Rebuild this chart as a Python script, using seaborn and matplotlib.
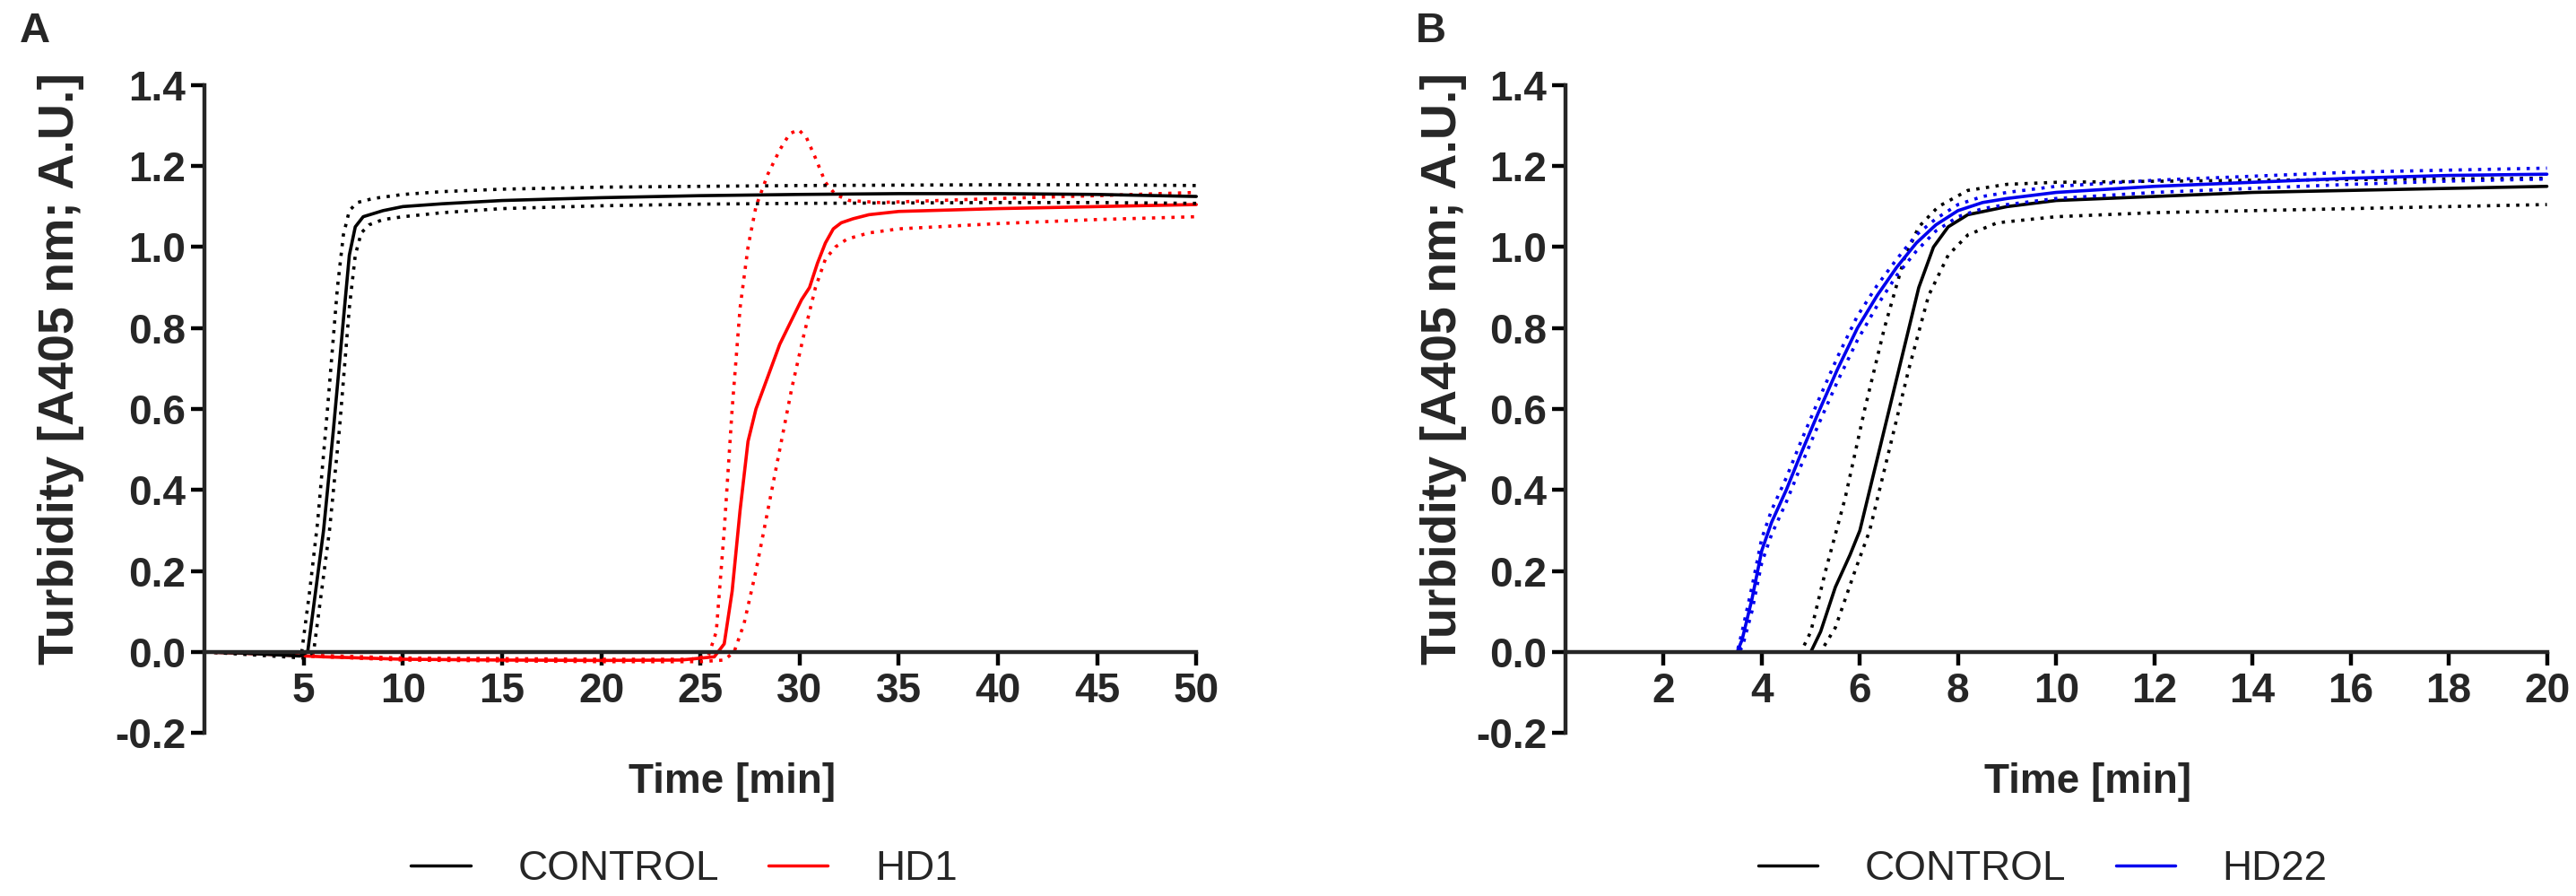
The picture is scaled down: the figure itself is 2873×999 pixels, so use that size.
import numpy as np
import pandas as pd
import matplotlib
matplotlib.use("Agg")
import matplotlib.pyplot as plt
from matplotlib import font_manager
from matplotlib.lines import Line2D
import seaborn as sns

# ---------------- data ----------------
# Panel A: CONTROL
a_ctrl_x = [0, 2, 4, 4.8, 5.2, 5.6, 6.0, 6.5, 7.0, 7.3, 7.6, 8.0, 9, 10, 12, 15, 20, 25, 30, 35, 40, 45, 50]
a_ctrl_y = [0, -0.003, -0.008, -0.01, 0.0, 0.15, 0.3, 0.55, 0.82, 0.98, 1.05, 1.075, 1.09, 1.10, 1.107, 1.115, 1.122, 1.127, 1.13, 1.132, 1.132, 1.13, 1.125]
a_ctrl_hi_x = [0, 2, 4, 4.6, 4.9, 5.3, 5.7, 6.2, 6.7, 7.0, 7.3, 7.7, 8.5, 10, 12, 15, 20, 25, 30, 35, 40, 45, 50]
a_ctrl_hi_y = [0, 0.0, -0.002, -0.004, 0.0, 0.15, 0.32, 0.6, 0.9, 1.03, 1.09, 1.11, 1.12, 1.13, 1.137, 1.143, 1.148, 1.15, 1.152, 1.153, 1.154, 1.154, 1.152]
a_ctrl_lo_x = [0, 2, 4, 5.0, 5.5, 5.9, 6.3, 6.8, 7.3, 7.6, 7.9, 8.3, 9, 10, 12, 15, 20, 25, 30, 35, 40, 45, 50]
a_ctrl_lo_y = [0, -0.006, -0.012, -0.015, 0.0, 0.15, 0.3, 0.55, 0.85, 0.98, 1.035, 1.055, 1.068, 1.075, 1.085, 1.095, 1.102, 1.106, 1.108, 1.109, 1.11, 1.11, 1.108]

# Panel A: HD1
a_hd1_x = [0, 3, 6, 10, 15, 20, 24, 25.7, 26.2, 26.6, 27.0, 27.4, 27.8, 28.4, 29.0, 29.6, 30.1, 30.5, 30.9, 31.3, 31.7, 32.1, 32.7, 33.5, 35, 40, 45, 50]
a_hd1_y = [0, -0.005, -0.012, -0.018, -0.02, -0.021, -0.02, -0.012, 0.02, 0.15, 0.35, 0.52, 0.6, 0.68, 0.76, 0.82, 0.87, 0.9, 0.96, 1.01, 1.045, 1.06, 1.07, 1.08, 1.088, 1.095, 1.10, 1.105]
a_hd1_hi_x = [0, 10, 20, 24.5, 25.4, 25.8, 26.2, 26.6, 27.0, 27.4, 27.8, 28.4, 29.0, 29.5, 29.95, 30.35, 30.8, 31.3, 31.8, 32.5, 34, 37, 40, 45, 50]
a_hd1_hi_y = [0, -0.015, -0.018, -0.018, -0.01, 0.05, 0.3, 0.6, 0.85, 1.0, 1.1, 1.18, 1.24, 1.28, 1.29, 1.27, 1.22, 1.16, 1.13, 1.115, 1.11, 1.115, 1.12, 1.127, 1.135]
a_hd1_lo_x = [0, 10, 20, 25, 26.2, 26.7, 27.2, 27.8, 28.4, 29.0, 29.6, 30.2, 30.8, 31.3, 31.8, 32.4, 33.5, 35, 40, 45, 50]
a_hd1_lo_y = [0, -0.02, -0.024, -0.024, -0.02, 0.0, 0.07, 0.2, 0.35, 0.5, 0.65, 0.78, 0.9, 0.97, 1.0, 1.02, 1.035, 1.045, 1.058, 1.068, 1.075]

# Panel B: CONTROL
b_ctrl_x = [0, 2, 4, 5.0, 5.2, 5.5, 5.8, 6.0, 6.3, 6.6, 6.9, 7.2, 7.5, 7.8, 8.2, 9, 10, 12, 14, 16, 18, 20]
b_ctrl_y = [0, 0, 0, 0, 0.05, 0.16, 0.24, 0.3, 0.45, 0.6, 0.75, 0.9, 1.0, 1.05, 1.08, 1.1, 1.115, 1.125, 1.135, 1.14, 1.145, 1.15]
b_ctrl_hi_x = [0, 2, 4, 4.8, 5.0, 5.3, 5.7, 6.1, 6.5, 6.9, 7.2, 7.6, 8.2, 9, 10, 14, 20]
b_ctrl_hi_y = [0, 0, 0, 0, 0.05, 0.2, 0.38, 0.6, 0.8, 0.97, 1.05, 1.1, 1.14, 1.155, 1.16, 1.165, 1.17]
b_ctrl_lo_x = [0, 2, 4, 5.2, 5.5, 5.9, 6.2, 6.6, 7.0, 7.4, 7.8, 8.2, 8.8, 10, 12, 16, 20]
b_ctrl_lo_y = [0, 0, 0, 0, 0.06, 0.2, 0.3, 0.5, 0.7, 0.88, 0.98, 1.03, 1.06, 1.075, 1.085, 1.095, 1.105]

# Panel B: HD22
b_hd22_x = [0, 2, 3.5, 3.6, 3.8, 4.0, 4.2, 4.5, 4.8, 5.15, 5.55, 5.95, 6.35, 6.75, 7.15, 7.55, 8.0, 8.5, 9, 10, 12, 14, 16, 18, 20]
b_hd22_y = [0, 0, 0, 0.03, 0.13, 0.25, 0.32, 0.40, 0.49, 0.59, 0.70, 0.80, 0.88, 0.95, 1.01, 1.055, 1.09, 1.11, 1.12, 1.135, 1.15, 1.16, 1.17, 1.177, 1.18]
b_hd22_hi_y = [0, 0, 0, 0.05, 0.16, 0.28, 0.35, 0.43, 0.52, 0.62, 0.73, 0.83, 0.905, 0.97, 1.03, 1.07, 1.105, 1.125, 1.135, 1.15, 1.165, 1.175, 1.185, 1.19, 1.195]
b_hd22_lo_y = [0, 0, 0, 0.01, 0.10, 0.22, 0.29, 0.37, 0.46, 0.56, 0.67, 0.77, 0.855, 0.93, 0.99, 1.04, 1.075, 1.095, 1.105, 1.12, 1.135, 1.145, 1.155, 1.163, 1.168]

a_xticks = [5, 10, 15, 20, 25, 30, 35, 40, 45, 50]
b_xticks = [2, 4, 6, 8, 10, 12, 14, 16, 18, 20]
yticks = [-0.2, 0.0, 0.2, 0.4, 0.6, 0.8, 1.0, 1.2, 1.4]
ytick_labels = ["-0.2", "0.0", "0.2", "0.4", "0.6", "0.8", "1.0", "1.2", "1.4"]

RED = "#ff0000"
BLUE = "#0000ee"
BLACK = "#000000"

# ---------------- style ----------------
sns.set_style("ticks")
plt.rcParams["font.family"] = ["Liberation Sans", "DejaVu Sans"]
plt.rcParams["axes.unicode_minus"] = False

installed = {f.name for f in font_manager.fontManager.ttflist}
if "Liberation Sans Narrow" in installed:
    TICK_FAMILY = ["Liberation Sans Narrow", "Liberation Sans", "DejaVu Sans"]
    TICK_FS = 37
else:
    TICK_FAMILY = ["Liberation Sans", "DejaVu Sans"]
    TICK_FS = 33

fig = plt.figure(figsize=(28.73, 9.99), dpi=100)
axA = fig.add_axes([0.0794, 0.182, 0.385, 0.723])
axB = fig.add_axes([0.6077, 0.182, 0.381, 0.723])

LW = 2.6
DOT = (0, (1, 2.0))


def draw(ax, x, y, color, dotted=False):
    sns.lineplot(x=x, y=y, ax=ax, color=color, linewidth=LW, estimator=None, sort=False,
                 linestyle=DOT if dotted else "-", legend=False, clip_on=False)


# Panel A: HD1 first, CONTROL on top
draw(axA, a_hd1_hi_x, a_hd1_hi_y, RED, True)
draw(axA, a_hd1_lo_x, a_hd1_lo_y, RED, True)
draw(axA, a_hd1_x, a_hd1_y, RED)
draw(axA, a_ctrl_hi_x, a_ctrl_hi_y, BLACK, True)
draw(axA, a_ctrl_lo_x, a_ctrl_lo_y, BLACK, True)
draw(axA, a_ctrl_x, a_ctrl_y, BLACK)

# Panel B: CONTROL first, HD22 on top
draw(axB, b_ctrl_hi_x, b_ctrl_hi_y, BLACK, True)
draw(axB, b_ctrl_lo_x, b_ctrl_lo_y, BLACK, True)
draw(axB, b_ctrl_x, b_ctrl_y, BLACK)
draw(axB, b_hd22_x, b_hd22_hi_y, BLUE, True)
draw(axB, b_hd22_x, b_hd22_lo_y, BLUE, True)
draw(axB, b_hd22_x, b_hd22_y, BLUE)

XLABEL_FS = 33
YLABEL_FS = 40

for ax, xmax, xt, ylx in [(axA, 50, a_xticks, -0.121), (axB, 20, b_xticks, -0.100)]:
    ax.set_xlim(0, xmax)
    ax.set_ylim(-0.2, 1.4)
    ax.set_xticks(xt)
    ax.set_xticklabels([str(v) for v in xt])
    ax.set_yticks(yticks)
    ax.set_yticklabels(ytick_labels)
    for s in ["top", "right"]:
        ax.spines[s].set_visible(False)
    ax.spines["bottom"].set_position(("data", 0))
    for s in ["left", "bottom"]:
        ax.spines[s].set_linewidth(3.2)
    ax.tick_params(axis="both", width=3.2, length=11, labelsize=TICK_FS, color="black")
    ax.tick_params(axis="x", pad=5)
    ax.tick_params(axis="y", pad=4)
    for lab in ax.get_xticklabels() + ax.get_yticklabels():
        lab.set_fontweight("bold")
        lab.set_family(TICK_FAMILY)
    ax.set_xlabel("Time [min]", fontsize=XLABEL_FS, fontweight="bold")
    ax.set_ylabel("Turbidity [A405 nm; A.U.]", fontsize=YLABEL_FS, fontweight="bold")
    ax.xaxis.set_label_coords(0.532, -0.045)
    ax.yaxis.set_label_coords(ylx, 0.5625)
    ax.yaxis.label.set_va("bottom")

# Legends
legA = [Line2D([0], [0], color=BLACK, lw=2.5), Line2D([0], [0], color=RED, lw=2.5)]
legB = [Line2D([0], [0], color=BLACK, lw=2.5), Line2D([0], [0], color=BLUE, lw=2.5)]
for handles, labels, cx in [(legA, ["CONTROL", "HD1"], 0.2656), (legB, ["CONTROL", "HD22"], 0.793)]:
    fig.legend(handles, labels, loc="center", bbox_to_anchor=(cx, 0.03), ncol=2,
               frameon=False, fontsize=33, handlelength=1.45, handletextpad=1.15, columnspacing=1.2)

fig.text(0.0077, 0.965, "A", fontsize=34, fontweight="bold", va="center", ha="left")
fig.text(0.5497, 0.965, "B", fontsize=34, fontweight="bold", va="center", ha="left")

fig.savefig("out.png", dpi=100, facecolor="white")
